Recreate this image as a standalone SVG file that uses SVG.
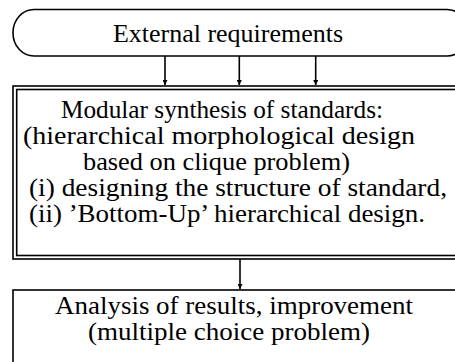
<svg xmlns="http://www.w3.org/2000/svg" width="455" height="362" viewBox="0 0 455 362">
<defs>
<style>
text{font-family:"Liberation Serif","Times New Roman",serif;font-size:25px;fill:#000}
.b{fill:none;stroke:#000;stroke-width:1.6}
.c{fill:none;stroke:#000;stroke-width:1.6}
</style>
<marker id="ah" viewBox="0 0 10 10" refX="10" refY="5" markerWidth="5" markerHeight="5" markerUnits="userSpaceOnUse" orient="auto">
<path d="M0,0 L10,5 L0,10 z" fill="#000"/>
</marker>
</defs>
<rect width="455" height="362" fill="#fff"/>
<g id="n1">
<rect class="b" x="13" y="9.5" width="455" height="46.5" rx="21" ry="23"/>
<text x="113" y="42" textLength="230" lengthAdjust="spacingAndGlyphs">External requirements</text>
</g>
<g id="n2">
<rect class="b" x="13" y="86" width="460" height="173"/>
<rect class="b" x="16.7" y="89.5" width="460" height="166"/>
<text x="61" y="118" textLength="322" lengthAdjust="spacingAndGlyphs">Modular synthesis of standards:</text>
<text x="23" y="144" textLength="392" lengthAdjust="spacingAndGlyphs">(hierarchical morphological design</text>
<text x="83" y="170" textLength="267" lengthAdjust="spacingAndGlyphs">based on clique problem)</text>
<text x="29" y="196" textLength="418" lengthAdjust="spacingAndGlyphs">(i) designing the structure of standard,</text>
<text x="29" y="222" textLength="396" lengthAdjust="spacingAndGlyphs">(ii) ’Bottom-Up’ hierarchical design.</text>
</g>
<g id="n3">
<rect class="b" x="13" y="290" width="460" height="100"/>
<text x="55" y="314" textLength="358" lengthAdjust="spacingAndGlyphs">Analysis of results, improvement</text>
<text x="88" y="340" textLength="282" lengthAdjust="spacingAndGlyphs">(multiple choice problem)</text>
</g>
<g id="connectors">
<line class="c" x1="165" y1="56" x2="165" y2="85" marker-end="url(#ah)"/>
<line class="c" x1="239.3" y1="56" x2="239.3" y2="85" marker-end="url(#ah)"/>
<line class="c" x1="315.7" y1="56" x2="315.7" y2="85" marker-end="url(#ah)"/>
<line class="c" x1="240" y1="259" x2="240" y2="289" marker-end="url(#ah)"/>
</g>
</svg>
